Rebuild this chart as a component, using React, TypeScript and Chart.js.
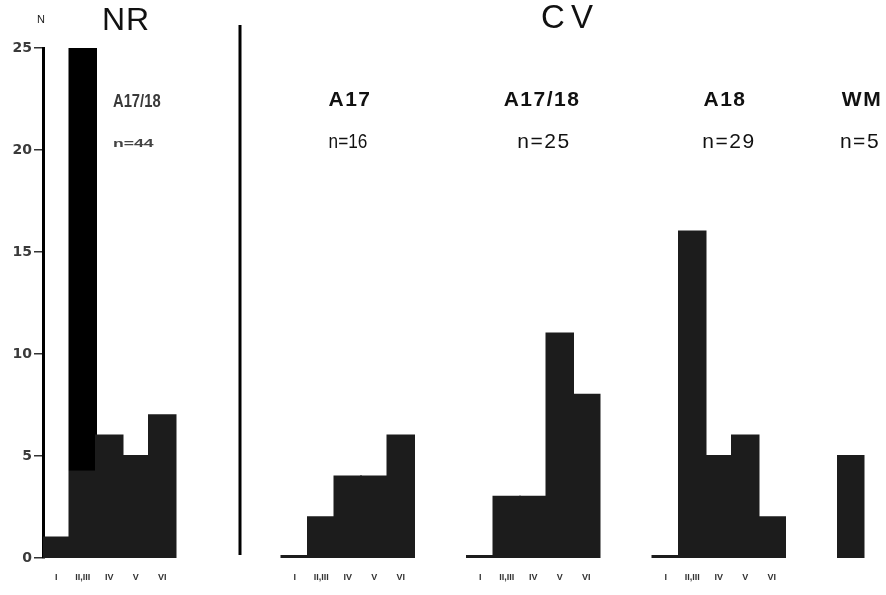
import React, { useEffect, useRef } from "react";
import { Chart, registerables } from "chart.js";

Chart.register(...registerables);

// ---- data ----
const bins = ["I", "II,III", "IV", "V", "VI"];
const nrA1718 = [1, 25, 6, 5, 7];
const cvA17 = [0, 2, 4, 4, 6];
const cvA1718 = [0, 3, 3, 11, 8];
const cvA18 = [0, 16, 5, 6, 2];
const cvWM = [5];
const yTicks = [0, 5, 10, 15, 20, 25];
const sectionTitles = ["NR", "CV"];
const groupNames = ["A17/18", "A17", "A17/18", "A18", "WM"];
const groupCounts = ["n=44", "n=16", "n=25", "n=29", "n=5"];
const yAxisTitle = "N";

// ---- layout / style (not data) ----
const spacerCounts = [4, 2, 2, 2];
const FONT = "'Liberation Sans', Arial, sans-serif";
const BAR = "#1c1c1c";

const groups = [nrA1718, cvA17, cvA1718, cvA18, cvWM];
const labels: string[] = [];
const values: (number | null)[] = [];
const isTall: boolean[] = [];
groups.forEach((g, gi) => {
  g.forEach((v, i) => {
    labels.push(g.length > 1 ? bins[i] : "");
    values.push(v);
    isTall.push(gi === 0 && i === 1);
  });
  if (gi < spacerCounts.length) {
    for (let k = 0; k < spacerCounts[gi]; k++) {
      labels.push("");
      values.push(null);
      isTall.push(false);
    }
  }
});

function drawText(
  ctx: CanvasRenderingContext2D,
  text: string,
  cx: number,
  y: number,
  font: string,
  color: string,
  opts: { align?: "center" | "left"; scaleX?: number; spacing?: number } = {}
) {
  const { align = "center", scaleX = 1, spacing = 0 } = opts;
  ctx.save();
  ctx.font = font;
  ctx.fillStyle = color;
  ctx.textBaseline = "alphabetic";
  ctx.textAlign = "left";
  (ctx as any).letterSpacing = spacing + "px";
  const w = ctx.measureText(text).width * scaleX;
  const x = align === "center" ? cx - w / 2 : cx;
  ctx.translate(x, y);
  ctx.scale(scaleX, 1);
  ctx.fillText(text, 0, 0);
  ctx.restore();
}

const annotations = {
  id: "annotations",
  afterDraw(chart: any) {
    const ctx: CanvasRenderingContext2D = chart.ctx;
    ctx.save();
    ctx.fillStyle = "#000";
    ctx.fillRect(238.5, 25, 3, 530);
    ctx.restore();

    drawText(ctx, yAxisTitle, 41, 23, `11px ${FONT}`, "#222");
    drawText(ctx, sectionTitles[0], 126, 30, `32px ${FONT}`, "#111", { spacing: 1 });
    drawText(ctx, sectionTitles[1], 570, 28, `33px ${FONT}`, "#111", { spacing: 6 });

    drawText(ctx, groupNames[0], 113, 107, `bold 18px ${FONT}`, "#3a3a3a", {
      align: "left",
      scaleX: 0.82,
    });
    drawText(ctx, groupCounts[0], 113, 147, `bold 11px ${FONT}`, "#444", {
      align: "left",
      scaleX: 1.6,
    });

    const nameX = [350, 542, 725, 862];
    const countX = [348, 544, 729, 860];
    for (let i = 1; i < groupNames.length; i++) {
      drawText(ctx, groupNames[i], nameX[i - 1], 106, `bold 21px ${FONT}`, "#111", {
        spacing: 1.5,
      });
      drawText(ctx, groupCounts[i], countX[i - 1], 148, `21px ${FONT}`, "#111", {
        spacing: i === 1 ? 0 : 1.5,
        scaleX: i === 1 ? 0.82 : 1,
      });
    }
  },
};

export default function App() {
  const ref = useRef<HTMLCanvasElement | null>(null);
  useEffect(() => {
    if (!ref.current) return;
    const chart = new Chart(ref.current, {
      type: "bar",
      data: {
        labels,
        datasets: [
          {
            data: values,
            backgroundColor: (c: any) => {
              if (!isTall[c.dataIndex]) return BAR;
              const ch = c.chart;
              const area = ch.chartArea;
              const ys = ch.scales && ch.scales.y;
              if (!area || !ys) return "#000";
              const split = ys.getPixelForValue(4.3);
              const g = ch.ctx.createLinearGradient(0, area.top, 0, area.bottom);
              const t = (split - area.top) / (area.bottom - area.top);
              g.addColorStop(0, "#000");
              g.addColorStop(Math.max(0, Math.min(1, t)), "#000");
              g.addColorStop(Math.max(0, Math.min(1, t + 0.001)), BAR);
              g.addColorStop(1, BAR);
              return g;
            },
            borderWidth: 0,
            inflateAmount: 1,
            barPercentage: 1,
            categoryPercentage: 1,
            minBarLength: 2,
          },
        ],
      },
      options: {
        animation: false,
        responsive: true,
        maintainAspectRatio: false,
        layout: { padding: { top: 48, right: 21.5, left: 0, bottom: 0 } },
        plugins: { legend: { display: false }, tooltip: { enabled: false } },
        scales: {
          x: {
            grid: { display: false, drawTicks: false },
            border: { display: false },
            ticks: {
              autoSkip: false,
              maxRotation: 0,
              minRotation: 0,
              padding: 14,
              color: "#333",
              font: { family: FONT, size: 9, weight: "bold" },
            },
            afterFit: (s: any) => {
              s.height = 37;
            },
          },
          y: {
            min: 0,
            max: 25,
            ticks: {
              stepSize: 5,
              padding: 2,
              color: "#3a3a3a",
              font: { family: "'DejaVu Sans', sans-serif", size: 14, weight: "bold" },
            },
            afterBuildTicks: (s: any) => {
              s.ticks = yTicks.map((v) => ({ value: v }));
            },
            grid: { drawOnChartArea: false, drawTicks: true, tickLength: 9, color: "#333", lineWidth: 1.5 },
            border: { display: true, color: "#000", width: 3 },
            afterFit: (s: any) => {
              s.width = 43;
            },
          },
        },
      },
      plugins: [annotations],
    } as any);
    return () => chart.destroy();
  }, []);
  return (
    <div style={{ position: "fixed", left: 0, top: 0, width: 886, height: 595, background: "#fff" }}>
      <canvas ref={ref} />
    </div>
  );
}
